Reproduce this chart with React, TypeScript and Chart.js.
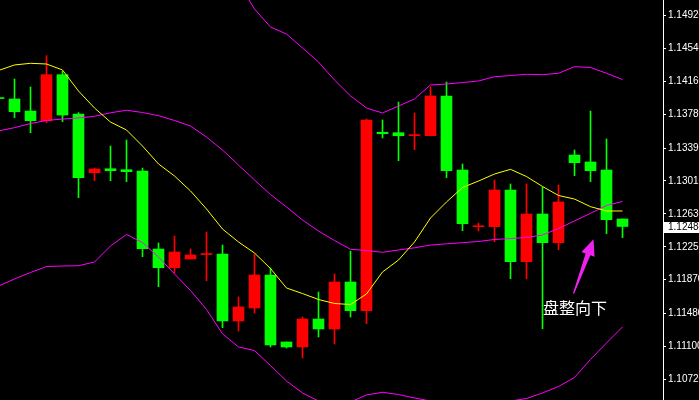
import React, { useEffect, useRef } from 'react';
import { Chart, registerables } from 'chart.js';

Chart.register(...registerables);

// Candle data (index 0 is the partially visible bar at the left edge)
const OPEN = [
  1.13963, 1.13956, 1.13817, 1.13705, 1.14237, 1.13783, 1.13105, 1.13151, 1.13140, 1.13125,
  1.12224, 1.12008, 1.12109, 1.12160, 1.12166, 1.11393, 1.11543, 1.11924, 1.11151, 1.11093,
  1.11416, 1.11301, 1.11843, 1.11512, 1.13572, 1.13567, 1.13533, 1.13532, 1.13991, 1.13136,
  1.12481, 1.12482, 1.12905, 1.12078, 1.12628, 1.12297, 1.13309, 1.13229, 1.13136, 1.12571,
];
const HIGH = [
  1.13964, 1.14187, 1.14095, 1.14456, 1.14276, 1.13798, 1.13159, 1.13413, 1.13483, 1.13159,
  1.12294, 1.12374, 1.12224, 1.12421, 1.12270, 1.11670, 1.12166, 1.12005, 1.11151, 1.11439,
  1.11728, 1.11936, 1.12201, 1.13725, 1.13714, 1.13921, 1.13794, 1.14095, 1.14152, 1.13206,
  1.12524, 1.13021, 1.12975, 1.12975, 1.12940, 1.12963, 1.13367, 1.13817, 1.13494, 1.12571,
];
const LOW = [
  1.13960, 1.13740, 1.13567, 1.13682, 1.13694, 1.12817, 1.13013, 1.13013, 1.13001, 1.12135,
  1.11789, 1.11947, 1.12109, 1.11858, 1.11316, 1.11278, 1.11485, 1.11093, 1.11081, 1.10966,
  1.11208, 1.11127, 1.11439, 1.11362, 1.13506, 1.13244, 1.13371, 1.13532, 1.13047, 1.12436,
  1.12432, 1.12309, 1.11881, 1.11881, 1.11304, 1.12216, 1.13070, 1.13001, 1.12401, 1.12355,
];
const CLOSE = [
  1.13961, 1.13809, 1.13705, 1.14237, 1.13771, 1.13047, 1.13148, 1.13128, 1.13117, 1.12228,
  1.12008, 1.12190, 1.12155, 1.12166, 1.11393, 1.11555, 1.11924, 1.11116, 1.11093, 1.11416,
  1.11301, 1.11843, 1.11512, 1.13714, 1.13555, 1.13532, 1.13540, 1.13991, 1.13128, 1.12516,
  1.12487, 1.12905, 1.12078, 1.12628, 1.12297, 1.12767, 1.13221, 1.13128, 1.12563, 1.12484,
];

// Indicators
const MA_YELLOW = [
  1.14285, 1.14349, 1.14368, 1.14360, 1.14291, 1.14048, 1.13852, 1.13690, 1.13598, 1.13413,
  1.13206, 1.13067, 1.12894, 1.12686, 1.12455, 1.12305, 1.12178, 1.11999, 1.11774, 1.11710,
  1.11641, 1.11595, 1.11583, 1.11705, 1.11959, 1.12097, 1.12305, 1.12582, 1.12767, 1.12934,
  1.13009, 1.13090, 1.13144, 1.13061, 1.12946, 1.12842, 1.12801, 1.12713, 1.12663, 1.12663,
];
const BB_UPPER = [
  1.15376, 1.15371, 1.15393, 1.15393, 1.15422, 1.15442, 1.15438, 1.15334, 1.15259, 1.15301,
  1.15395, 1.15480, 1.15543, 1.15509, 1.15489, 1.15295, 1.14995, 1.14787, 1.14706, 1.14545,
  1.14383, 1.14175, 1.13991, 1.13852, 1.13794, 1.13875, 1.13956, 1.14118, 1.14129, 1.14146,
  1.14164, 1.14213, 1.14227, 1.14241, 1.14237, 1.14253, 1.14329, 1.14320, 1.14253, 1.14181,
];
const BB_MID = [
  1.13587, 1.13625, 1.13673, 1.13708, 1.13725, 1.13737, 1.13756, 1.13797, 1.13826, 1.13800,
  1.13763, 1.13708, 1.13644, 1.13517, 1.13367, 1.13194, 1.13021, 1.12853, 1.12709, 1.12559,
  1.12432, 1.12322, 1.12221, 1.12207, 1.12186, 1.12213, 1.12238, 1.12270, 1.12284, 1.12297,
  1.12311, 1.12334, 1.12345, 1.12357, 1.12386, 1.12461, 1.12548, 1.12636, 1.12726, 1.12773,
];
const BB_LOWER = [
  1.11797, 1.11878, 1.11953, 1.12022, 1.12028, 1.12031, 1.12074, 1.12259, 1.12392, 1.12299,
  1.12132, 1.11936, 1.11745, 1.11526, 1.11245, 1.11093, 1.11052, 1.10879, 1.10700, 1.10562,
  1.10469, 1.10423, 1.10458, 1.10539, 1.10570, 1.10544, 1.10504, 1.10469, 1.10446, 1.10435,
  1.10435, 1.10446, 1.10469, 1.10498, 1.10562, 1.10637, 1.10741, 1.10949, 1.11139, 1.11324,
];

const Y_TICKS = [1.1492, 1.1454, 1.1416, 1.1378, 1.1339, 1.1301, 1.1263, 1.1225, 1.1187, 1.1148, 1.111, 1.1072];
const Y_MIN = 1.104809;
const Y_MAX = 1.150989;
const X_MIN = 0.09375;
const X_MAX = 41.53125;
const LAST_PRICE = 1.12484;

const ANNOTATION_TEXT = '盘整向下';
const ANNOTATION_POS = { x: 36.03, y: 1.11543 };
const ARROW_TAIL = { x: 35.94, y: 1.1171 };
const ARROW_TIP = { x: 37.19, y: 1.12336 };

const UP = '#ff0000';
const DOWN = '#00ff00';

export default function App() {
  const ref = useRef<HTMLCanvasElement | null>(null);

  useEffect(() => {
    const canvas = ref.current;
    if (!canvas) return;
    const idx = OPEN.map((_, i) => i);
    const colors = idx.map((i) => (CLOSE[i] >= OPEN[i] ? UP : DOWN));

    const overlay = {
      id: 'overlay',
      afterDraw(chart: any) {
        const { ctx, scales, chartArea } = chart;
        const xs = scales.x;
        const ys = scales.y;
        ctx.save();
        // arrow
        const tx = xs.getPixelForValue(ARROW_TAIL.x);
        const ty = ys.getPixelForValue(ARROW_TAIL.y);
        const hx = xs.getPixelForValue(ARROW_TIP.x);
        const hy = ys.getPixelForValue(ARROW_TIP.y);
        const dx = hx - tx;
        const dy = hy - ty;
        const len = Math.hypot(dx, dy);
        const ux = dx / len;
        const uy = dy / len;
        const nx = -uy;
        const ny = ux;
        const headLen = 16;
        const headW = 7;
        const bx = hx - ux * headLen;
        const by = hy - uy * headLen;
        ctx.fillStyle = '#ee22ee';
        ctx.beginPath();
        ctx.moveTo(tx - nx * 0.6, ty - ny * 0.6);
        ctx.lineTo(bx - nx * 2.5, by - ny * 2.5);
        ctx.lineTo(bx - nx * headW, by - ny * headW);
        ctx.lineTo(hx, hy);
        ctx.lineTo(bx + nx * headW, by + ny * headW);
        ctx.lineTo(bx + nx * 2.5, by + ny * 2.5);
        ctx.lineTo(tx + nx * 0.6, ty + ny * 0.6);
        ctx.closePath();
        ctx.fill();
        // annotation text
        ctx.fillStyle = '#ffffff';
        ctx.font = '16px "Noto Sans CJK SC"';
        ctx.textAlign = 'center';
        ctx.textBaseline = 'middle';
        ctx.fillText(ANNOTATION_TEXT, xs.getPixelForValue(ANNOTATION_POS.x), ys.getPixelForValue(ANNOTATION_POS.y));
        // current price label
        const py = ys.getPixelForValue(LAST_PRICE);
        ctx.fillStyle = '#ffffff';
        ctx.fillRect(chartArea.right + 1, Math.round(py) - 4, 40, 11);
        ctx.fillStyle = '#000000';
        ctx.font = '10px "Liberation Sans"';
        ctx.textAlign = 'left';
        ctx.fillText(LAST_PRICE.toFixed(5), chartArea.right + 5, Math.round(py) + 1.5);
        ctx.restore();
      },
    };

    const lineDs = (label: string, data: number[], color: string) => ({
      type: 'line' as const,
      label,
      data: idx.map((i) => ({ x: i, y: data[i] })),
      borderColor: color,
      borderWidth: 1,
      pointRadius: 0,
      tension: 0,
      fill: false,
      order: 0,
    });

    const chart = new Chart(canvas, {
      type: 'bar',
      data: {
        datasets: [
          lineDs('MA', MA_YELLOW, '#ffff00'),
          lineDs('BB upper', BB_UPPER, '#ff00ff'),
          lineDs('BB mid', BB_MID, '#ff00ff'),
          lineDs('BB lower', BB_LOWER, '#ff00ff'),
          {
            type: 'bar',
            label: 'body',
            data: idx.map((i) => ({ x: i, y: [OPEN[i], CLOSE[i]] })) as any,
            backgroundColor: colors,
            borderWidth: 0,
            grouped: false,
            barThickness: 11,
            maxBarThickness: 11,
            minBarLength: 1,
            order: 1,
          } as any,
          {
            type: 'bar',
            label: 'wick',
            data: idx.map((i) => ({ x: i, y: [LOW[i], HIGH[i]] })) as any,
            backgroundColor: colors,
            borderWidth: 0,
            grouped: false,
            barThickness: 1,
            maxBarThickness: 1,
            order: 2,
          } as any,
        ],
      },
      options: {
        responsive: false,
        animation: false,
        events: [],
        layout: { padding: 0 },
        plugins: { legend: { display: false }, tooltip: { enabled: false } },
        scales: {
          x: {
            type: 'linear',
            display: false,
            offset: false,
            min: X_MIN,
            max: X_MAX,
            bounds: 'data',
          },
          y: {
            type: 'linear',
            position: 'right',
            min: Y_MIN,
            max: Y_MAX,
            bounds: 'data',
            afterBuildTicks: (scale: any) => {
              scale.ticks = Y_TICKS.map((v) => ({ value: v }));
            },
            afterFit: (scale: any) => {
              scale.width = 36;
              scale.paddingTop = 0;
              scale.paddingBottom = 0;
            },
            grid: {
              drawOnChartArea: false,
              drawTicks: true,
              tickLength: 3,
              color: '#ffffff',
            },
            border: { display: true, color: '#ffffff', width: 1 },
            ticks: {
              padding: 2,
              color: '#ffffff',
              font: { family: 'Liberation Sans', size: 10 },
              callback: (v: any) => Number(v).toFixed(5),
            },
          },
        },
      } as any,
      plugins: [overlay],
    });
    return () => chart.destroy();
  }, []);

  return (
    <div style={{ position: 'fixed', left: 0, top: 0, width: 699, height: 400, background: '#000' }}>
      <canvas ref={ref} width={699} height={400} style={{ display: 'block' }} />
    </div>
  );
}
